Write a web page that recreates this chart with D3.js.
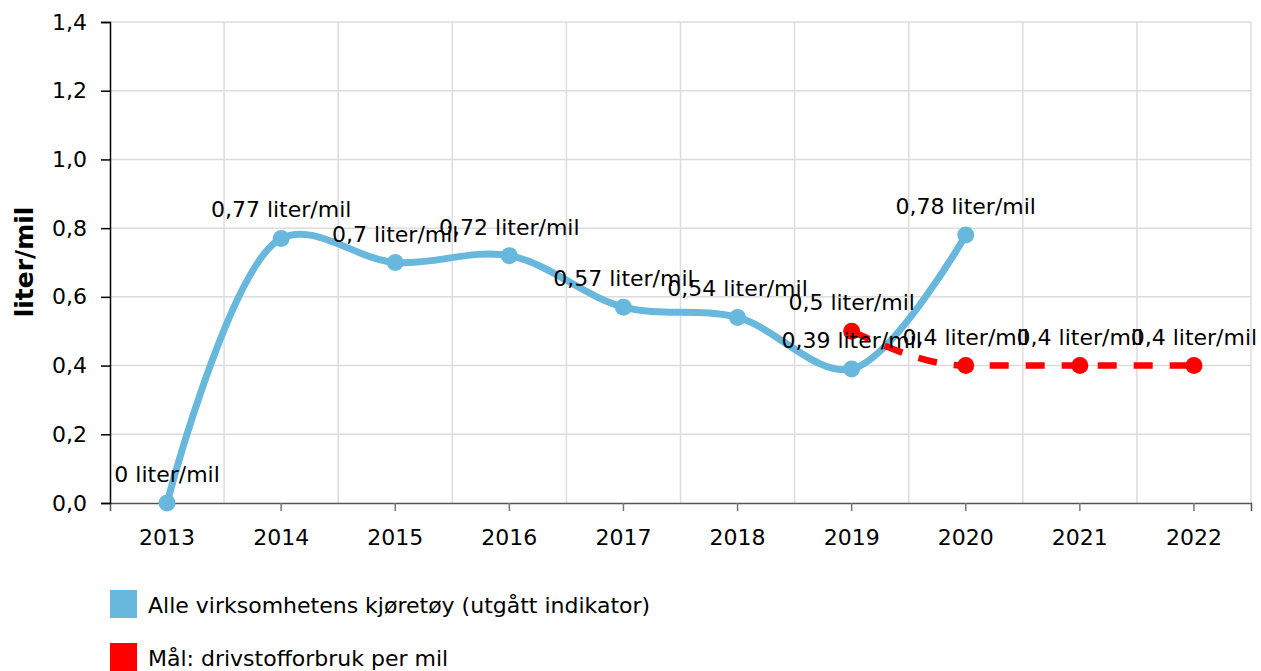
<!DOCTYPE html>
<html>
<head>
<script src="https://d3js.org/d3.v7.min.js"></script>
<style>
  body { margin: 0; background: #fff; }
  svg text { font-family: "DejaVu Sans", Verdana, sans-serif; fill: #000; }
  .grid line { stroke: #dcdcdc; stroke-width: 1.5; }
  .lbl { font-size: 22px; text-anchor: middle; }
</style>
</head>
<body>
<svg width="1261" height="671"></svg>
<script>
// Data
const years = ["2013", "2014", "2015", "2016", "2017", "2018", "2019", "2020", "2021", "2022"];
const allVehicles = [0, 0.77, 0.7, 0.72, 0.57, 0.54, 0.39, 0.78];          // 2013-2020
const targetYears = ["2019", "2020", "2021", "2022"];
const targetValues = [0.5, 0.4, 0.4, 0.4];
const yTicks = [0, 0.2, 0.4, 0.6, 0.8, 1.0, 1.2, 1.4];
const seriesNames = ["Alle virksomhetens kjøretøy (utgått indikator)", "Mål: drivstofforbruk per mil"];
const seriesColors = ["#68b7dc", "#ff0000"];

const margin = {top: 22, right: 10, bottom: 168, left: 110};
const width = 1251 - margin.left;
const height = 503 - margin.top;

const svg = d3.select("svg");
const g = svg.append("g").attr("transform", "translate(" + margin.left + "," + margin.top + ")");

const x = d3.scaleBand().domain(years).range([0, width]);
const y = d3.scaleLinear().domain([0, 1.4]).range([height, 0]);
const fmt = v => d3.format(".1f")(v).replace(".", ",");
const lblFmt = v => String(v).replace(".", ",") + " liter/mil";

// Grid
const grid = g.append("g").attr("class", "grid");
grid.selectAll(".h").data(yTicks.slice(1)).enter().append("line")
    .attr("x1", 0).attr("x2", width)
    .attr("y1", d => y(d)).attr("y2", d => y(d));
grid.selectAll(".v").data(years.slice(1).concat(["end"])).enter().append("line")
    .attr("x1", (d, i) => (i + 1) * x.step()).attr("x2", (d, i) => (i + 1) * x.step())
    .attr("y1", 0).attr("y2", height);

// Axes
const xAxis = g.append("g")
    .attr("transform", "translate(0," + height + ")")
    .call(d3.axisBottom(x).tickSize(8).tickPadding(18));
xAxis.select(".domain").attr("stroke", "#555").attr("stroke-width", 1.5);
xAxis.selectAll(".tick line").attr("stroke", "#777").attr("stroke-width", 1.5);
xAxis.selectAll("text").style("font-size", "22px");

const yAxis = g.append("g")
    .call(d3.axisLeft(y).tickValues(yTicks).tickFormat(fmt).tickSize(9).tickPadding(14));
yAxis.select(".domain").attr("stroke", "#000").attr("stroke-width", 1.5);
yAxis.selectAll(".tick line").attr("stroke", "#000").attr("stroke-width", 1.5);
yAxis.selectAll("text").style("font-size", "22px");

// Y axis title
svg.append("text")
    .attr("transform", "translate(33,262) rotate(-90)")
    .attr("text-anchor", "middle")
    .style("font-size", "25px")
    .style("font-weight", "bold")
    .text("liter/mil");

const cx = d => x(d) + x.bandwidth() / 2;
const blue = allVehicles.map((v, i) => ({year: years[i], value: v}));
const red = targetValues.map((v, i) => ({year: targetYears[i], value: v}));

const blueLine = d3.line()
    .x(d => cx(d.year))
    .y(d => y(d.value))
    .curve(d3.curveCatmullRom.alpha(0.5));
const redLine = d3.line()
    .x(d => cx(d.year))
    .y(d => y(d.value))
    .curve(d3.curveMonotoneX);

g.append("path").datum(blue)
    .attr("fill", "none").attr("stroke", seriesColors[0]).attr("stroke-width", 7)
    .attr("stroke-linecap", "round")
    .attr("d", blueLine);
g.selectAll(".bdot").data(blue).enter().append("circle")
    .attr("cx", d => cx(d.year)).attr("cy", d => y(d.value)).attr("r", 8.5)
    .attr("fill", seriesColors[0]);

g.append("path").datum(red)
    .attr("fill", "none").attr("stroke", seriesColors[1]).attr("stroke-width", 6.5)
    .attr("stroke-dasharray", "19,17")
    .attr("d", redLine);
g.selectAll(".rdot").data(red).enter().append("circle")
    .attr("cx", d => cx(d.year)).attr("cy", d => y(d.value)).attr("r", 8.5)
    .attr("fill", seriesColors[1]);

// Data labels
g.selectAll(".bl").data(blue).enter().append("text")
    .attr("class", "lbl")
    .attr("x", d => cx(d.year)).attr("y", d => y(d.value) - 21)
    .text(d => lblFmt(d.value));
g.selectAll(".rl").data(red).enter().append("text")
    .attr("class", "lbl")
    .attr("x", d => cx(d.year)).attr("y", d => y(d.value) - 21)
    .text(d => lblFmt(d.value));

// Legend
const legend = svg.selectAll(".legend").data(seriesNames).enter().append("g")
    .attr("transform", (d, i) => "translate(110," + (590 + i * 53) + ")");
legend.append("rect").attr("width", 27).attr("height", 28).attr("fill", (d, i) => seriesColors[i]);
legend.append("text").attr("x", 38).attr("y", 23).style("font-size", "22px").text(d => d);
</script>
</body>
</html>
